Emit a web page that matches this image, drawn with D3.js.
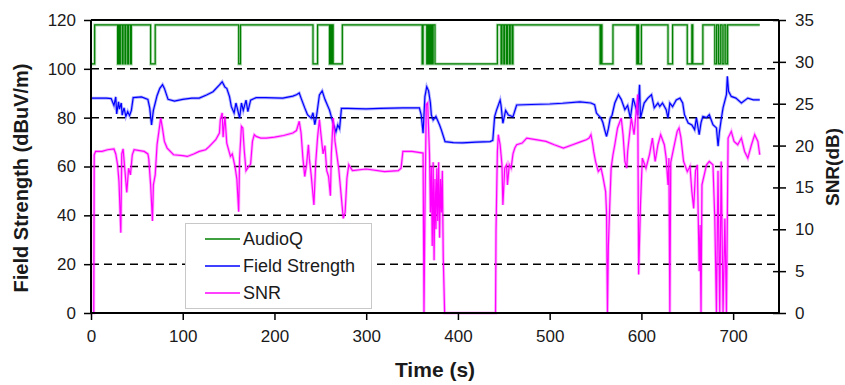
<!DOCTYPE html>
<html>
<head>
<meta charset="utf-8">
<script src="https://cdn.jsdelivr.net/npm/d3@7"></script>
<style>
  body { margin: 0; background: #fff; }
  svg text { font-family: "Liberation Sans", Arial, sans-serif; fill: #1a1a1a; }
</style>
</head>
<body>
<svg id="chart" width="845" height="385"></svg>
<script>
// AudioQ (step signal, left-axis units)
const audioTimes = [0, 4, 29, 30, 31, 32, 34, 35, 37, 38, 40, 41, 43, 44, 65, 70, 161, 163, 242, 247,
  260, 261, 262, 263, 264, 274, 361, 362, 366, 367, 368, 369, 370, 371, 372, 373, 375, 443, 447, 448,
  450, 451, 453, 454, 456, 457, 459, 460, 555, 556, 557, 569, 595, 596, 597, 600, 629, 634, 650, 655,
  656, 667, 680, 682, 684, 686, 688, 690, 692, 694, 699, 729];
const audioLevels = [102, 118, 102, 118, 102, 118, 102, 118, 102, 118, 102, 118, 102, 118, 102, 118, 102, 118, 102, 118,
  102, 118, 102, 118, 102, 118, 102, 118, 102, 118, 102, 118, 102, 118, 102, 118, 102, 118, 102, 118,
  102, 118, 102, 118, 102, 118, 102, 118, 102, 118, 102, 118, 102, 118, 102, 118, 102, 118, 102, 118,
  102, 118, 102, 118, 102, 118, 102, 118, 102, 118, 118, 118];

// Field strength (dBuV/m)
const fieldTimes = [0, 17, 22, 25, 27, 28, 30, 31, 33, 34, 36, 38, 40, 42, 44, 46, 55, 62, 64, 66,
  68, 70, 72, 75, 78, 80, 84, 91, 100, 110, 118, 126, 133, 140, 143, 146, 148, 151, 153, 156,
  158, 160, 162, 164, 166, 169, 171, 174, 180, 190, 209, 220, 224, 227, 229, 233, 236, 240, 242, 244,
  246, 249, 252, 255, 260, 263, 267, 269, 271, 273, 280, 300, 315, 340, 358, 360, 362, 364, 366, 368,
  370, 371, 373, 376, 380, 382, 386, 395, 405, 420, 435, 438, 440, 442, 446, 447, 449, 452, 455, 460,
  464, 480, 500, 514, 533, 545, 549, 551, 553, 556, 558, 560, 562, 564, 566, 568, 571, 575, 578, 582,
  585, 588, 591, 594, 596, 598, 599, 603, 607, 611, 614, 618, 620, 623, 627, 629, 631, 634, 638, 642,
  645, 647, 651, 655, 658, 660, 663, 665, 667, 671, 674, 678, 681.8, 683.6, 685, 687.2, 689, 692.7, 693.7, 695,
  698, 703, 709, 716, 722, 729];
const fieldValues = [88.0, 88.0, 87.8, 85.0, 88.5, 81.5, 86.5, 83.5, 86.0, 81.0, 84.0, 80.5, 82.5, 80.8, 83.0, 88.2, 88.5, 87.5, 84.0, 77.0,
  83.0, 86.0, 89.0, 92.0, 93.5, 92.0, 87.5, 86.8, 87.5, 88.0, 88.0, 89.3, 90.6, 93.4, 94.7, 92.5, 92.0, 88.6, 84.5, 81.9,
  86.0, 83.0, 79.8, 86.0, 83.0, 87.2, 82.5, 87.2, 88.2, 88.2, 88.0, 88.8, 89.4, 90.1, 88.0, 84.0, 81.2, 79.8, 82.0, 77.1,
  81.0, 89.3, 91.0, 87.5, 83.1, 79.0, 74.2, 77.0, 75.5, 83.8, 83.8, 83.6, 83.8, 84.0, 84.0, 81.1, 73.6, 88.6, 92.7, 91.0,
  86.0, 81.1, 79.0, 80.5, 77.0, 74.9, 70.2, 69.8, 69.7, 70.0, 70.2, 70.7, 80.4, 83.0, 87.2, 85.0, 77.7, 83.0, 81.1, 80.4,
  85.2, 85.4, 85.6, 85.9, 86.5, 86.0, 85.3, 81.9, 81.0, 79.8, 78.0, 75.0, 72.3, 75.5, 79.8, 81.0, 86.0, 89.4, 87.5, 83.3,
  85.0, 79.8, 88.0, 84.0, 81.0, 93.5, 79.8, 86.0, 88.0, 89.4, 84.0, 86.0, 84.6, 86.0, 83.3, 79.8, 86.0, 84.5, 87.3, 88.0,
  86.0, 81.2, 77.8, 77.0, 75.1, 80.0, 73.0, 78.0, 80.5, 80.0, 81.2, 77.1, 75.8, 68.3, 74.0, 79.8, 84.0, 89.4, 96.9, 90.8,
  88.7, 88.0, 86.0, 88.0, 87.3, 87.3];

// SNR (dB, right axis)
const snrTimes = [0, 3, 3.5, 5, 12, 18, 25, 27, 29, 30.5, 32.5, 33.5, 35, 37, 39, 41, 43, 45, 47, 58,
  62, 63, 65, 67, 68, 70, 72, 74, 76, 78, 80, 83, 90, 100, 105, 112, 118, 125, 129, 136,
  140, 141, 143, 144, 146, 148, 152, 154, 157, 159, 161, 162, 164, 165.5, 167, 169, 172, 174, 176, 178,
  180, 185, 191, 200, 210, 220, 224, 227, 229, 231, 233, 235, 237, 238, 240, 243, 245, 247, 249, 251,
  253, 255, 257, 259, 261, 262, 264, 266, 267.5, 270, 271.5, 273, 275, 277, 279, 281, 285, 300, 320, 335,
  338, 340, 350, 362, 363, 364, 365.5, 367, 369, 370, 371, 372, 373, 374, 375, 376, 377, 378, 379, 380,
  381, 382, 383, 384, 385.5, 441, 441.5, 443, 444, 446, 448, 449, 451, 453, 454, 456, 458, 460, 462, 464,
  470, 475, 485, 496, 505, 515, 525, 535, 540, 543, 545, 547, 548, 550, 553, 556, 558, 561, 562, 563,
  564, 565.5, 567, 569, 571, 574, 578, 580, 582, 584, 585, 589, 592, 596, 597, 599, 601, 605, 609, 612,
  615, 618, 621, 625, 627, 629, 630, 631, 632, 635, 639, 641, 643, 646, 650, 653, 655, 657, 659, 661,
  662, 663, 664, 665, 666, 671, 674, 678, 680, 681.8, 683.5, 685.4, 687, 689, 691, 692.7, 694.5, 698, 701, 705,
  709, 712.5, 716, 720, 723.5, 727, 729];
const snrValues = [0, 0, 18.9, 19.3, 19.3, 19.5, 19.6, 19.0, 17.7, 15.7, 9.6, 19.0, 19.6, 17.0, 14.4, 17.3, 16.5, 18.9, 19.5, 19.3,
  19.0, 18.4, 15.3, 11.0, 15.3, 16.5, 20.1, 21.7, 23.3, 22.0, 20.5, 19.7, 18.9, 18.8, 18.7, 19.0, 19.3, 19.5, 19.9, 20.7,
  21.5, 23.1, 23.9, 21.0, 23.5, 20.3, 18.7, 19.0, 17.5, 16.0, 12.1, 18.5, 22.3, 22.1, 19.5, 17.0, 17.5, 17.8, 20.5, 21.3,
  21.1, 20.9, 20.9, 21.0, 21.2, 21.5, 21.8, 22.9, 21.5, 18.5, 16.3, 17.7, 20.1, 18.5, 16.5, 12.9, 18.0, 21.0, 23.1, 21.0,
  19.0, 20.0, 17.0, 16.3, 14.0, 19.0, 23.3, 20.5, 19.3, 17.3, 15.5, 13.7, 11.3, 12.0, 16.1, 17.7, 17.0, 17.2, 16.9, 17.0,
  17.3, 19.3, 19.3, 19.1, 0, 12.0, 24.9, 25.1, 19.0, 12.0, 17.5, 8.0, 18.0, 6.3, 16.0, 10.0, 17.3, 11.0, 18.0, 9.0,
  16.0, 12.0, 17.0, 6.6, 0, 0, 9.8, 19.3, 21.3, 20.1, 17.7, 12.9, 17.3, 17.7, 15.3, 17.7, 17.3, 19.0, 19.7, 20.1,
  20.3, 20.9, 20.7, 20.5, 20.1, 19.7, 20.1, 20.5, 20.7, 20.9, 21.3, 20.1, 19.3, 18.1, 16.9, 17.3, 16.3, 14.5, 12.0, 0,
  8.0, 12.9, 17.3, 18.9, 20.1, 22.1, 23.3, 21.3, 18.1, 17.3, 19.3, 23.3, 21.3, 26.1, 4.6, 12.9, 18.5, 17.3, 19.0, 20.9,
  18.1, 20.1, 21.3, 20.1, 18.5, 15.3, 18.5, 0, 18.0, 19.6, 21.7, 22.1, 21.0, 18.1, 16.9, 17.5, 14.5, 12.5, 17.0, 17.7,
  11.3, 5.0, 10.5, 0, 15.3, 17.7, 18.1, 17.7, 11.3, 0, 17.0, 0, 18.1, 0, 11.3, 0, 20.9, 21.7, 20.5, 20.1,
  20.9, 19.3, 18.5, 20.1, 21.3, 20.5, 18.9];

const leftTicks = [0, 20, 40, 60, 80, 100, 120];
const rightTicks = [0, 5, 10, 15, 20, 25, 30, 35];
const timeTicks = [0, 100, 200, 300, 400, 500, 600, 700];
const seriesNames = ['AudioQ', 'Field Strength', 'SNR'];
const seriesColors = ['#008000', '#0000ff', '#ff00ff'];

const svg = d3.select('#chart');
const plot = { left: 91, right: 779, top: 20, bottom: 313 };

const x = d3.scaleLinear().domain([0, 750]).range([plot.left, plot.right]);
const yLeft = d3.scaleLinear().domain([0, 120]).range([plot.bottom, plot.top]);
const yRight = d3.scaleLinear().domain([0, 35]).range([plot.bottom, plot.top]);

// dashed grid
svg.append('g')
  .selectAll('line')
  .data(leftTicks.filter(d => d > 0 && d < 120))
  .join('line')
  .attr('x1', plot.left).attr('x2', plot.right)
  .attr('y1', d => yLeft(d)).attr('y2', d => yLeft(d))
  .attr('stroke', '#000')
  .attr('stroke-width', 1.5)
  .attr('stroke-dasharray', '8,5');

function drawSeries(times, values, yScale, color, curve) {
  const line = d3.line()
    .x((d, i) => x(times[i]))
    .y(d => yScale(d))
    .curve(curve);
  svg.append('path')
    .datum(values)
    .attr('d', line)
    .attr('fill', 'none')
    .attr('stroke', color)
    .attr('stroke-opacity', 0.3)
    .attr('stroke-width', 3);
  svg.append('path')
    .datum(values)
    .attr('d', line)
    .attr('fill', 'none')
    .attr('stroke', color)
    .attr('stroke-width', 1.2);
}

drawSeries(audioTimes, audioLevels, yLeft, seriesColors[0], d3.curveStepAfter);
drawSeries(fieldTimes, fieldValues, yLeft, seriesColors[1], d3.curveLinear);
drawSeries(snrTimes, snrValues, yRight, seriesColors[2], d3.curveLinear);

// frame top
svg.append('line')
  .attr('x1', plot.left).attr('x2', plot.right)
  .attr('y1', plot.top).attr('y2', plot.top)
  .attr('stroke', '#000').attr('stroke-width', 2);

// axes
const leftAxis = svg.append('g')
  .attr('transform', `translate(${plot.left},0)`)
  .call(d3.axisLeft(yLeft).tickValues(leftTicks).tickSize(7).tickPadding(8));
const rightAxis = svg.append('g')
  .attr('transform', `translate(${plot.right},0)`)
  .call(d3.axisRight(yRight).tickValues(rightTicks).tickSize(7).tickPadding(9));
rightAxis.selectAll('.tick line').attr('x1', -6);
const bottomAxis = svg.append('g')
  .attr('transform', `translate(0,${plot.bottom})`)
  .call(d3.axisBottom(x).tickValues(timeTicks).tickSize(7).tickPadding(10));

[leftAxis, rightAxis, bottomAxis].forEach(g => {
  g.select('.domain').attr('stroke', '#000').attr('stroke-width', 2);
  g.selectAll('.tick line').attr('stroke', '#000').attr('stroke-width', 1.5);
  g.selectAll('.tick text')
    .attr('font-size', 17)
    .attr('fill', '#1a1a1a')
    .style('font-family', '"Liberation Sans", Arial, sans-serif');
});
leftAxis.select('.domain').attr('d', `M0,${plot.bottom}V${plot.top}`);
rightAxis.select('.domain').attr('d', `M0,${plot.bottom}V${plot.top}`);
bottomAxis.select('.domain').attr('d', `M${plot.left},0H${plot.right}`);

// titles
svg.append('text')
  .attr('transform', 'translate(28,178) rotate(-90)')
  .attr('text-anchor', 'middle')
  .attr('font-size', 20)
  .attr('font-weight', 'bold')
  .text('Field Strength (dBuV/m)');
svg.append('text')
  .attr('transform', 'translate(839,167) rotate(-90)')
  .attr('text-anchor', 'middle')
  .attr('font-size', 19)
  .attr('font-weight', 'bold')
  .text('SNR(dB)');
svg.append('text')
  .attr('x', 435).attr('y', 377)
  .attr('text-anchor', 'middle')
  .attr('font-size', 21)
  .attr('font-weight', 'bold')
  .text('Time (s)');

// legend
const legend = svg.append('g');
legend.append('rect')
  .attr('x', 185.5).attr('y', 223.5)
  .attr('width', 186).attr('height', 85)
  .attr('fill', '#fff')
  .attr('stroke', '#c8c8c8')
  .attr('stroke-width', 1);
const rows = legend.selectAll('g.row')
  .data(seriesNames)
  .join('g')
  .attr('class', 'row')
  .attr('transform', (d, i) => `translate(0,${239 + i * 27})`);
rows.append('line')
  .attr('x1', 205).attr('x2', 240)
  .attr('stroke', (d, i) => seriesColors[i])
  .attr('stroke-width', 1.5);
rows.append('text')
  .attr('x', 243).attr('y', 6)
  .attr('font-size', 18)
  .text(d => d);
</script>
</body>
</html>
